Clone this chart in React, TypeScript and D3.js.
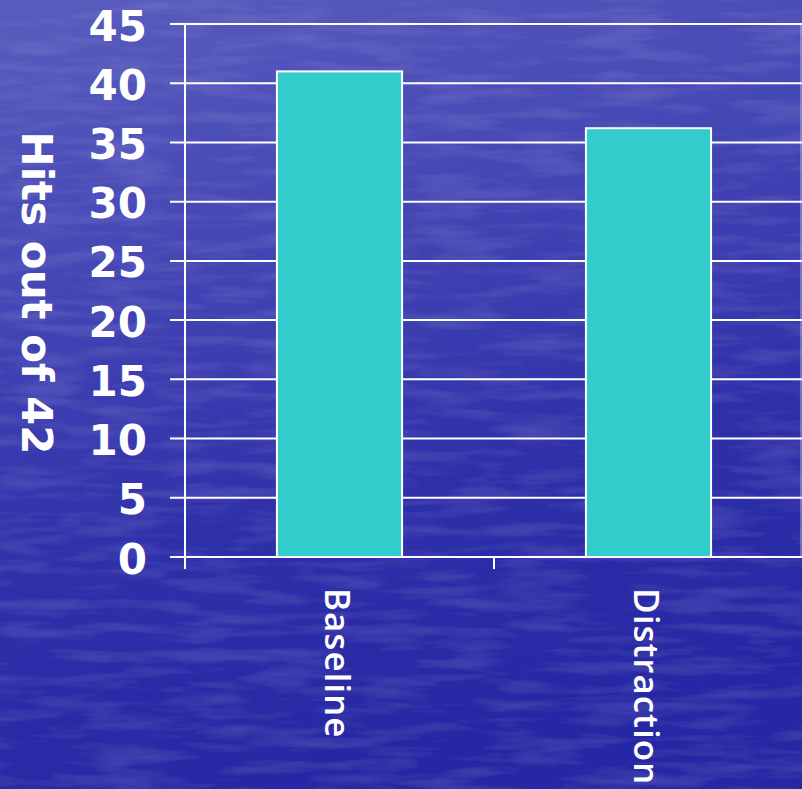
import React from "react";
import * as d3 from "d3";

const categories = ["Baseline", "Distraction"];
const values = [41, 36.2];
const yTicks = [0, 5, 10, 15, 20, 25, 30, 35, 40, 45];
const yTitle = "Hits out of 42";

const W = 802;
const H = 789;
const m = { left: 185, right: 0, top: 24, bottom: 232 };

export default function App() {
  const x = d3.scaleBand<string>().domain(categories).range([m.left, 803]).padding(0);
  const y = d3.scaleLinear().domain([0, 45]).range([H - m.bottom, m.top]);
  const bw = x.bandwidth() * 0.405;
  const fontNum = "'DejaVu Sans', Verdana, sans-serif";
  return (
    <svg
      width={W}
      height={H}
      style={{ position: "absolute", left: 0, top: 0, display: "block" }}
    >
      <defs>
        <linearGradient id="bg" x1="0" y1="0" x2="0.25" y2="1">
          <stop offset="0" stopColor="#5a5dbd" />
          <stop offset="0.35" stopColor="#4547b5" />
          <stop offset="0.7" stopColor="#2f30aa" />
          <stop offset="1" stopColor="#2828a5" />
        </linearGradient>
        <filter id="tex" x="0" y="0" width="100%" height="100%">
          <feTurbulence type="fractalNoise" baseFrequency="0.012 0.08" numOctaves="3" seed="4" result="n" />
          <feColorMatrix
            in="n"
            type="matrix"
            values="0 0 0 0 0.6  0 0 0 0 0.6  0 0 0 0 1  0 0 0 1.2 -0.55"
            result="c"
          />
          <feComposite in="c" in2="SourceGraphic" operator="atop" />
        </filter>
      </defs>
      <rect x={0} y={0} width={W} height={H} fill="url(#bg)" />
      <rect x={0} y={0} width={W} height={H} fill="url(#bg)" filter="url(#tex)" opacity={0.22} />

      {/* gridlines */}
      {yTicks.map((t) => (
        <line key={"g" + t} x1={170} x2={W} y1={y(t)} y2={y(t)} stroke="#fff" strokeWidth={2} />
      ))}
      {/* y axis */}
      <line x1={m.left} x2={m.left} y1={y(45)} y2={y(0) + 12} stroke="#fff" strokeWidth={2} />
      <line x1={801} x2={801} y1={y(45)} y2={y(0)} stroke="#fff" strokeWidth={1} opacity={0.6} />
      {/* category ticks */}
      {categories.map((c) => (
        <line key={"t" + c} x1={(x(c) as number) + x.bandwidth()} x2={(x(c) as number) + x.bandwidth()} y1={y(0)} y2={y(0) + 12} stroke="#fff" strokeWidth={2} />
      ))}

      {/* bars */}
      {categories.map((c, i) => {
        const cx = (x(c) as number) + x.bandwidth() / 2;
        return (
          <rect
            key={c}
            x={cx - bw / 2}
            y={y(values[i])}
            width={bw}
            height={y(0) - y(values[i])}
            fill="#33cccc"
            stroke="#fff"
            strokeWidth={2}
          />
        );
      })}

      {/* y tick labels */}
      {yTicks.map((t) => (
        <text
          key={"l" + t}
          x={147}
          y={y(t) + 2}
          textAnchor="end"
          dominantBaseline="central"
          fill="#fff"
          fontFamily={fontNum}
          fontWeight="bold"
          fontSize={42}
        >
          {t}
        </text>
      ))}

      {/* y title */}
      <text
        transform={`translate(22, 293) rotate(90)`}
        textAnchor="middle"
        fill="#fff"
        fontFamily={fontNum}
        fontWeight="bold"
        fontSize={42}
      >
        {yTitle}
      </text>

      {/* category labels */}
      {categories.map((c) => {
        const cx = (x(c) as number) + x.bandwidth() / 2;
        return (
          <text
            key={"c" + c}
            transform={`translate(${cx - 15}, 588) rotate(90)`}
            textAnchor="start"
            fill="#fff"
            fontFamily="'Open Sans', sans-serif"
            fontWeight={600}
            fontSize={35}
            letterSpacing={1}
          >
            {c}
          </text>
        );
      })}
    </svg>
  );
}
